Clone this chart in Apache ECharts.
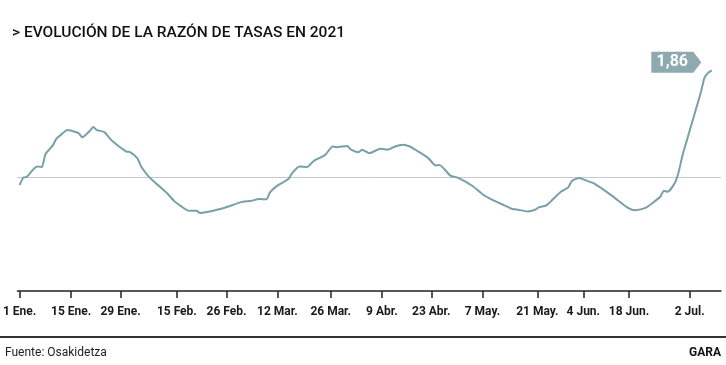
<!DOCTYPE html>
<html>
<head>
<meta charset="utf-8">
<script src="https://cdn.jsdelivr.net/npm/echarts@6/dist/echarts.min.js"></script>
<style>
  html, body { margin: 0; padding: 0; background: #ffffff; }
  #chart { width: 726px; height: 365px; }
</style>
</head>
<body>
<div id="chart"></div>
<script>
// Days since 1 January 2021
var days = [0,1,2,4,5,6,7,8,9,10,11,13,16,17,19,20,21,23,25,29,30,32,33,35,37,40,42,44,46,48,49,52,55,57,60,63,65,67,68,70,73,74,76,78,80,83,85,86,89,90,92,93,95,98,100,102,104,106,108,111,113,114,117,119,123,126,128,131,134,135,138,140,141,143,144,147,149,150,152,154,156,160,163,165,167,170,172,174,175,176,178,179,180,181,183,185,186,187,188];
// Razón de tasas
var ratio = [0.935,0.994,1.002,1.071,1.084,1.080,1.185,1.220,1.255,1.310,1.335,1.378,1.354,1.320,1.370,1.403,1.378,1.362,1.295,1.205,1.200,1.150,1.084,1.005,0.950,0.870,0.805,0.760,0.727,0.727,0.710,0.724,0.746,0.765,0.795,0.808,0.822,0.820,0.876,0.930,0.984,1.030,1.084,1.079,1.132,1.178,1.246,1.240,1.250,1.220,1.200,1.220,1.192,1.227,1.220,1.246,1.260,1.246,1.210,1.152,1.092,1.097,1.011,0.994,0.927,0.854,0.822,0.780,0.740,0.738,0.722,0.735,0.755,0.770,0.795,0.880,0.916,0.968,0.992,0.970,0.949,0.868,0.800,0.754,0.732,0.751,0.792,0.840,0.889,0.881,0.954,1.040,1.170,1.273,1.476,1.679,1.800,1.840,1.860];
// Axis ticks (day positions) and labels
var tickDays = [0,14,27.4,42.7,56.2,70,84.5,98.4,111.8,125.7,140.6,153.1,165.5,182];
var tickLabels = ['1 Ene.','15 Ene.','29 Ene.','15 Feb.','26 Feb.','12 Mar.','26 Mar.','9 Abr.','23 Abr.','7 May.','21 May.','4 Jun.','18 Jun.','2 Jul.'];
var referenceValue = 1;
var lastLabel = '1,86';
var titleText = '> EVOLUCIÓN DE LA RAZÓN DE TASAS EN 2021';
var sourceText = 'Fuente: Osakidetza';
var brandText = 'GARA';

var seriesData = days.map(function (d, i) { return [d, ratio[i]]; });
var last = seriesData[seriesData.length - 1];

var chart = echarts.init(document.getElementById('chart'), null, { renderer: 'canvas' });
var font = 'Roboto, "Noto Sans", sans-serif';

chart.setOption({
  animation: false,
  backgroundColor: '#ffffff',
  grid: { left: 16, right: 5, top: 53, bottom: 74, containLabel: false },
  xAxis: {
    type: 'value',
    min: -0.6,
    max: 190.5,
    splitLine: { show: false },
    axisLine: { show: true, onZero: false, lineStyle: { color: '#222222', width: 1.5 } },
    axisTick: { show: true, customValues: tickDays, length: 7, lineStyle: { color: '#222222', width: 1.5 } },
    axisLabel: {
      show: true,
      customValues: tickDays,
      margin: 15,
      color: '#1a1a1a',
      fontFamily: font,
      fontSize: 12,
      fontWeight: 'bold',
      formatter: function (v) {
        for (var i = 0; i < tickDays.length; i++) {
          if (Math.abs(tickDays[i] - v) < 1e-6) return tickLabels[i];
        }
        return '';
      }
    }
  },
  yAxis: {
    type: 'value',
    min: 0.08,
    max: 2.0,
    show: false,
    splitLine: { show: false }
  },
  series: [{
    type: 'line',
    data: seriesData,
    showSymbol: false,
    smooth: 0.2,
    lineStyle: { color: '#799fa8', width: 2 },
    itemStyle: { color: '#799fa8' },
    z: 3,
    markLine: {
      silent: true,
      symbol: ['none', 'none'],
      label: { show: false },
      lineStyle: { color: '#c8c8c8', width: 1, type: 'solid' },
      data: [{ yAxis: referenceValue }],
      z: 1
    },
    markPoint: {
      silent: true,
      symbol: 'path://M0,0 L42,0 L50,10.5 L42,21 L0,21 Z',
      symbolSize: [50, 21],
      symbolKeepAspect: false,
      symbolOffset: [-35.5, -8],
      itemStyle: { color: '#8fa9b0' },
      label: {
        show: true,
        position: 'inside',
        offset: [-4, 0],
        formatter: lastLabel,
        color: '#ffffff',
        fontFamily: font,
        fontSize: 16,
        fontWeight: 'bold'
      },
      data: [{ coord: last }]
    }
  }],
  graphic: [
    {
      type: 'text', left: 12, top: 25,
      style: { text: titleText, fill: '#111111', font: '500 15.5px ' + font }
    },
    {
      type: 'rect', left: 0, top: 336,
      shape: { width: 726, height: 2 },
      style: { fill: '#333333' }
    },
    {
      type: 'text', left: 5, top: 347,
      style: { text: sourceText, fill: '#222222', font: '12px ' + font }
    },
    {
      type: 'text', right: 5, top: 347,
      style: { text: brandText, fill: '#111111', font: 'bold 12px ' + font }
    }
  ]
});
</script>
</body>
</html>
